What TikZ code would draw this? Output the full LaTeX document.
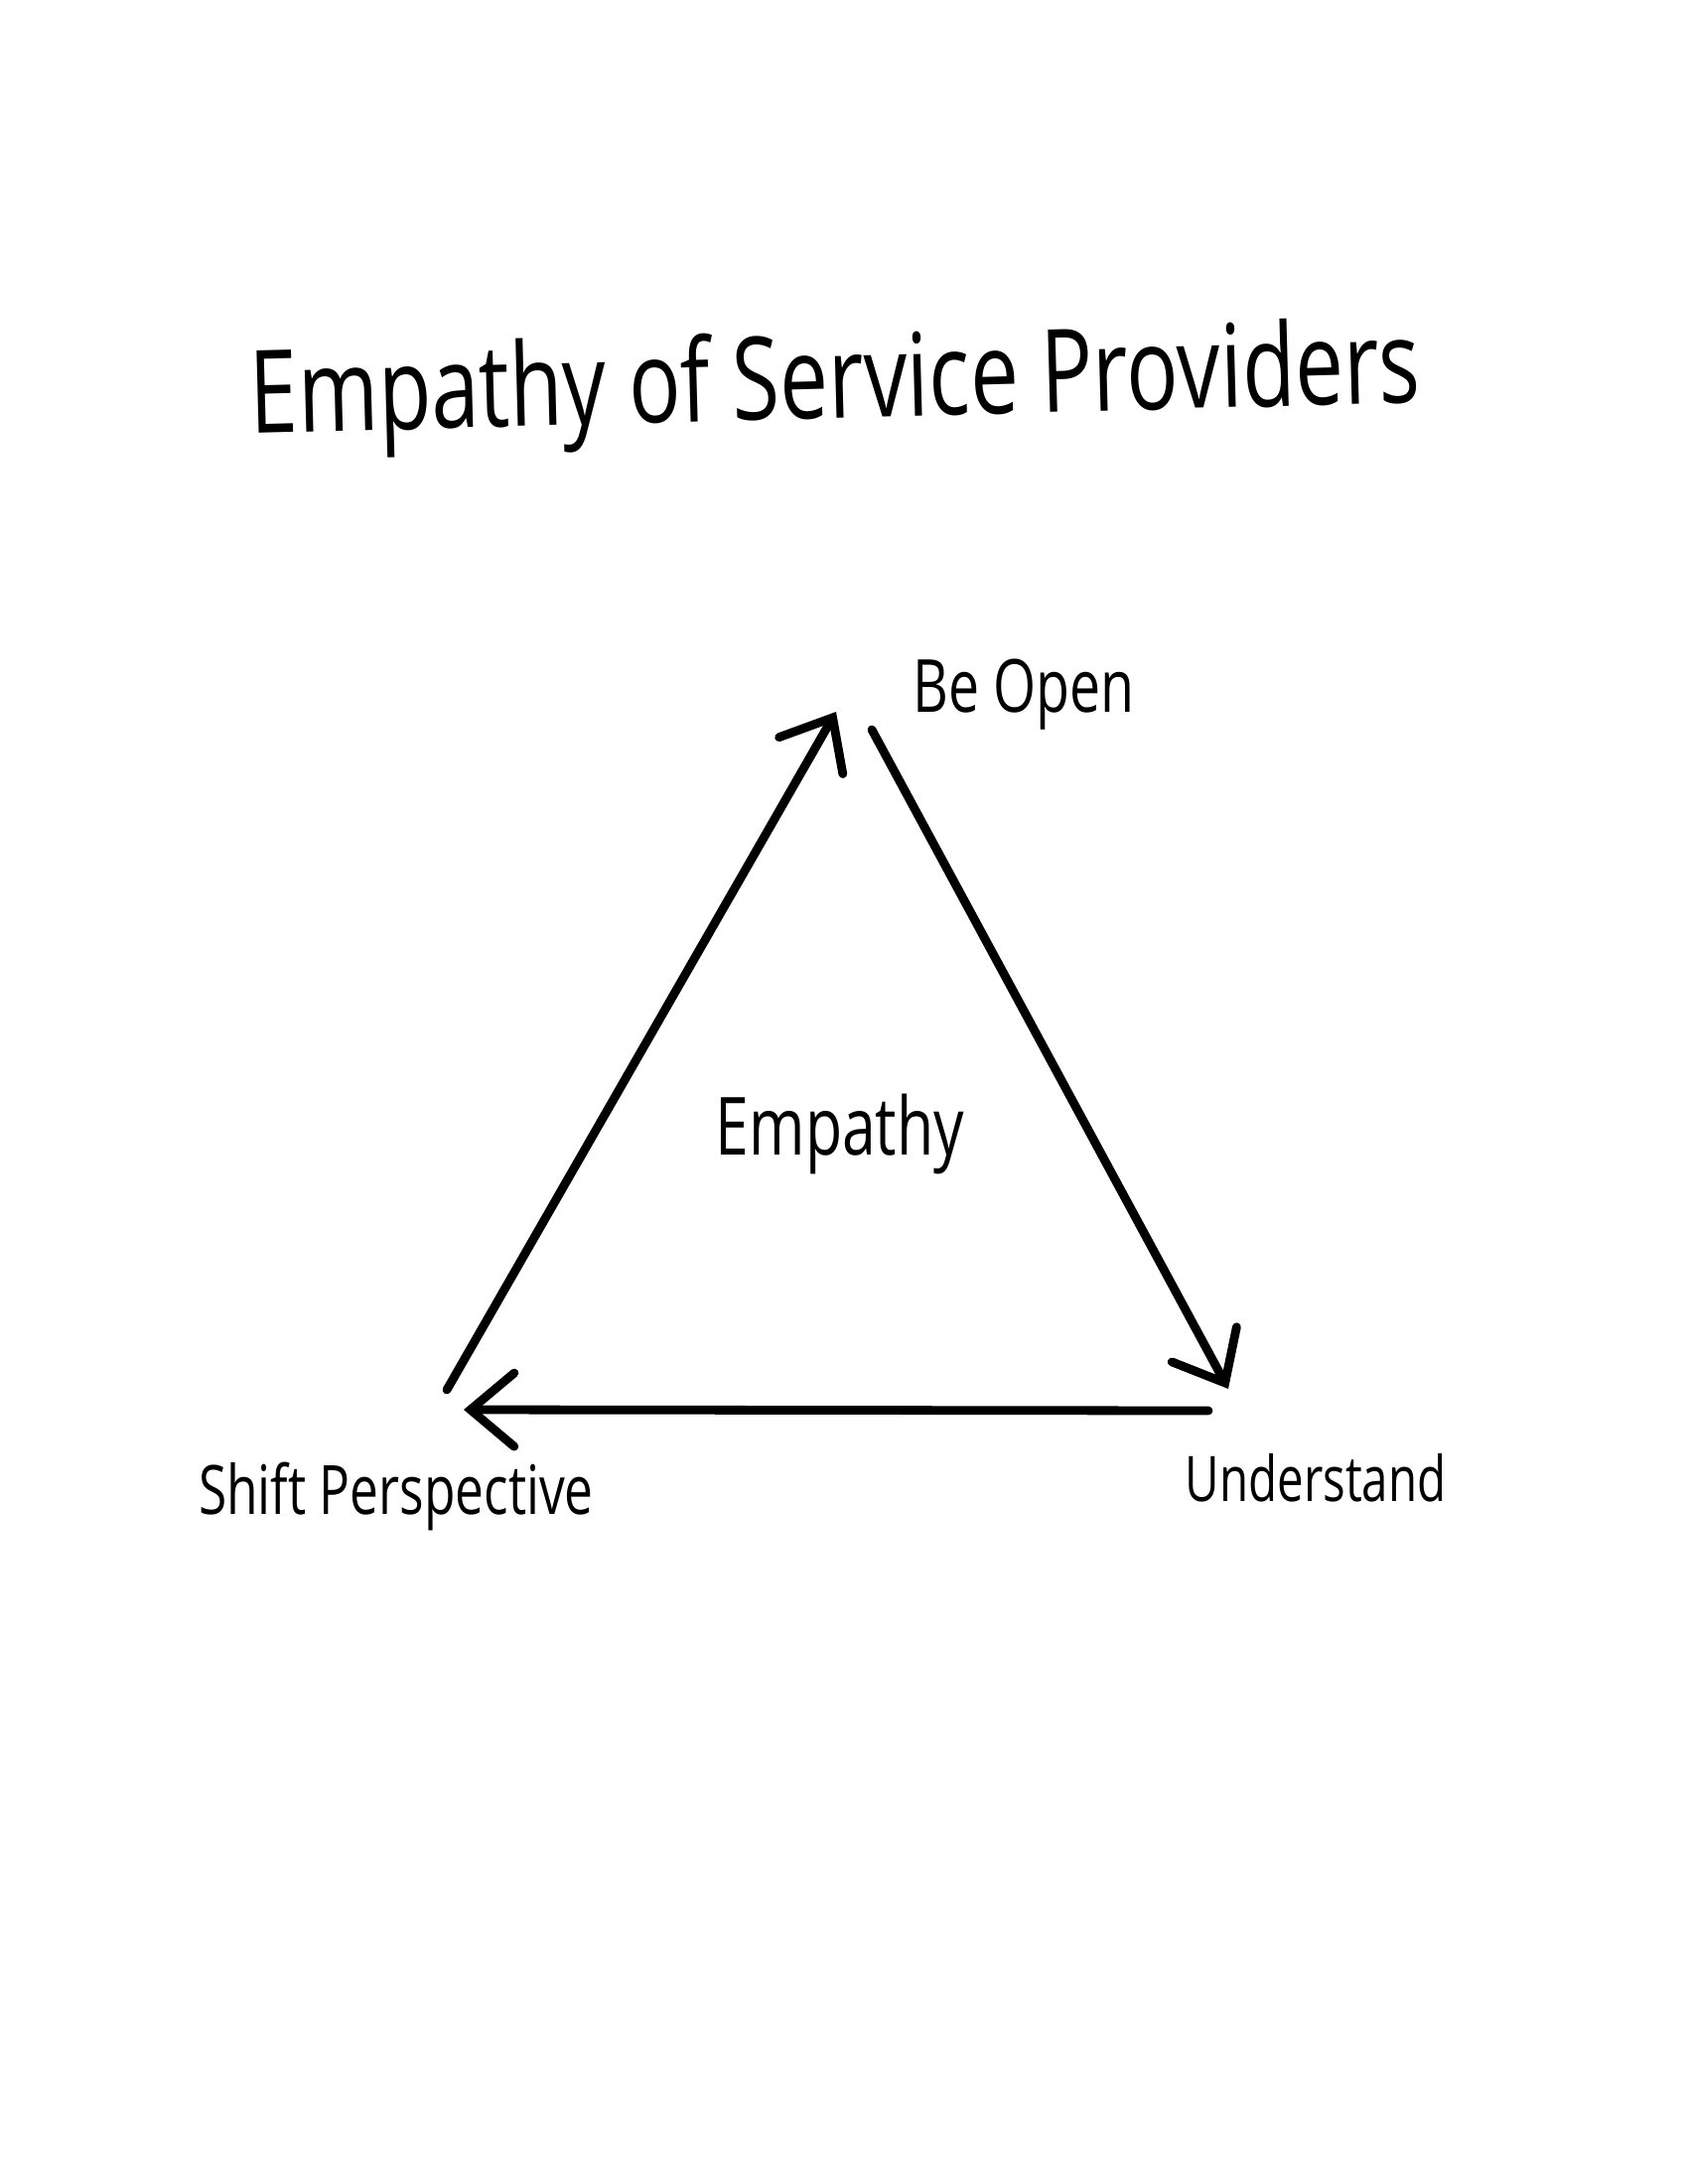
\documentclass[tikz,border=0pt]{standalone}
\usepackage{fontspec}
\newfontfamily\elyazi[FakeStretch=0.75]{Open Sans}
\usetikzlibrary{arrows.meta}

\begin{document}
\begin{tikzpicture}[x=0.01cm, y=-0.01cm, font=\elyazi,
    etiket/.style={anchor=base, font=\elyazi\fontsize{18}{20}\selectfont},
    ok/.style={line width=2.5pt, line cap=round,
      -{Straight Barb[length=4.4mm, width=7.4mm, line cap=round]}}]
  \useasboundingbox[fill=white] (0,0) rectangle (1700,2200);

  % baslik
  \node[anchor=base, rotate=1.5, font=\elyazi\fontsize{33}{38}\selectfont]
    (baslik) at (842,421) {Empathy of Service Providers};

  % kose etiketleri
  \node[etiket, font=\elyazi\fontsize{21}{24}\selectfont] (open) at (1031,717) {Be Open};
  \node[etiket, font=\elyazi\fontsize{19.5}{22}\selectfont] (shift) at (399,1525) {Shift Perspective};
  \node[etiket] (understand) at (1325,1512) {Understand};
  \node[etiket, font=\elyazi\fontsize{23}{26}\selectfont] (empathy) at (846,1163) {Empathy};

  % ucgenin ok uclari
  \coordinate (a1) at (450,1400);
  \coordinate (a2) at (842,717);
  \coordinate (b1) at (878,735);
  \coordinate (b2) at (1237,1399);
  \coordinate (c1) at (1217,1421);
  \coordinate (c2) at (467,1420);

  \draw[ok] (a1) -- (a2);
  \draw[ok] (b1) -- (b2);
  \draw[ok] (c1) -- (c2);
\end{tikzpicture}
\end{document}
